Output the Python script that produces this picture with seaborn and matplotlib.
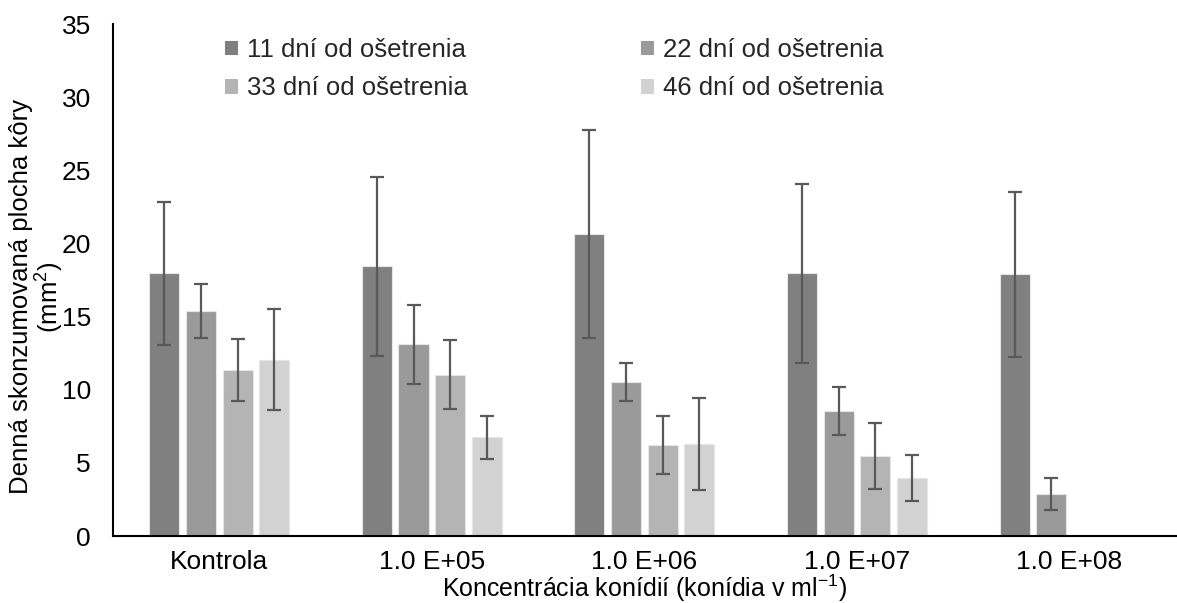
import numpy as np
import pandas as pd
import matplotlib
matplotlib.use("Agg")
import matplotlib.pyplot as plt
import seaborn as sns

# Concentration groups and sampling days
categories = ["Kontrola", "1.0 E+05", "1.0 E+06", "1.0 E+07", "1.0 E+08"]
series = ["11 dní od ošetrenia", "22 dní od ošetrenia",
          "33 dní od ošetrenia", "46 dní od ošetrenia"]

# Mean daily consumed bark area (mm²) per series, in category order
day11 = [17.96, 18.43, 20.64, 17.96, 17.89]
day22 = [15.38, 13.10, 10.50, 8.54, 2.87]
day33 = [11.35, 11.03, 6.22, 5.47, np.nan]
day46 = [12.05, 6.75, 6.29, 3.98, np.nan]

# Error bar half-lengths
err11 = [4.89, 6.10, 7.10, 6.14, 5.62]
err22 = [1.82, 2.69, 1.30, 1.64, 1.07]
err33 = [2.10, 2.37, 1.98, 2.25, np.nan]
err46 = [3.45, 1.45, 3.12, 1.57, np.nan]

colors = ["#808080", "#9a9a9a", "#b4b4b4", "#d2d2d2"]

values = [day11, day22, day33, day46]
errors = [err11, err22, err33, err46]

rows = []
for s, vals, errs in zip(series, values, errors):
    for c, v, e in zip(categories, vals, errs):
        rows.append({"kategoria": c, "seria": s, "hodnota": v, "chyba": e})
df = pd.DataFrame(rows)
df_plot = df.dropna(subset=["hodnota"])

sns.set_theme(style="white")
plt.rcParams["font.family"] = ["Liberation Sans", "DejaVu Sans"]
plt.rcParams["mathtext.fontset"] = "custom"
plt.rcParams["mathtext.rm"] = "Liberation Sans"
plt.rcParams["mathtext.it"] = "Liberation Sans"

fig = plt.figure(figsize=(11.77, 6.03), dpi=100)
ax = fig.add_axes([0.096, 0.111, 0.903, 0.849])

sns.barplot(data=df_plot, x="kategoria", y="hodnota", hue="seria",
            order=categories, hue_order=series, palette=colors,
            width=0.69, gap=0.18, errorbar=None, ax=ax,
            edgecolor="#e6e6e6", linewidth=0.8, saturation=1)

# Error bars placed on the drawn bars
lookup = df.set_index(["kategoria", "seria"])
for s, cont in zip(series, ax.containers):
    for bar in cont:
        h = bar.get_height()
        if not np.isfinite(h):
            continue
        xc = bar.get_x() + bar.get_width() / 2
        ci = int(round(xc))
        e = lookup.loc[(categories[ci], s), "chyba"]
        ax.errorbar(xc, h, yerr=e, fmt="none", ecolor="#595959",
                    elinewidth=1.6, capsize=5, capthick=1.6, zorder=5)

ax.set_ylim(0, 35)
ax.set_yticks(range(0, 36, 5))
ax.set_xlim(-0.5, len(categories) - 0.5)

ax.set_xlabel("")
ax.set_ylabel("")
fig.text(0.5 * (0.096 + 0.999), 1 - 588 / 603,
         "Koncentrácia konídií (konídia v ml$^{\\mathregular{-1}}$)",
         fontsize=18, color="black", ha="center", va="center")
fig.text(21 / 1177, 1 - 297 / 603, "Denná skonzumovaná plocha kôry",
         fontsize=18.5, color="black", rotation=90, ha="center", va="center")
fig.text(50 / 1177, 1 - 297 / 603, "(mm$^{2}$)",
         fontsize=18.5, color="black", rotation=90, ha="center", va="center")

ax.tick_params(axis="y", direction="in", length=6, width=1.2,
               labelsize=19, colors="black", pad=16)
ax.tick_params(axis="x", length=0, labelsize=19, colors="black", pad=10)

for side in ["top", "right"]:
    ax.spines[side].set_visible(False)
for side in ["left", "bottom"]:
    ax.spines[side].set_color("black")
    ax.spines[side].set_linewidth(1.5)

# Legend laid out row by row: 11 | 22 on top, 33 | 46 below
handles, labels = ax.get_legend_handles_labels()
ax.get_legend().remove()
order = [0, 2, 1, 3]
leg = fig.legend([handles[i] for i in order], [labels[i] for i in order],
                 loc="upper left", bbox_to_anchor=(225 / 1177, 1 - 38 / 603),
                 bbox_transform=fig.transFigure, ncol=2, frameon=False,
                 fontsize=18.5, handlelength=0.5, handleheight=0.5,
                 handletextpad=0.35, columnspacing=6.75, labelspacing=0.56,
                 borderpad=0, borderaxespad=0)
for h in leg.legend_handles:
    h.set_edgecolor("none")

fig.savefig("out.png", dpi=100)
